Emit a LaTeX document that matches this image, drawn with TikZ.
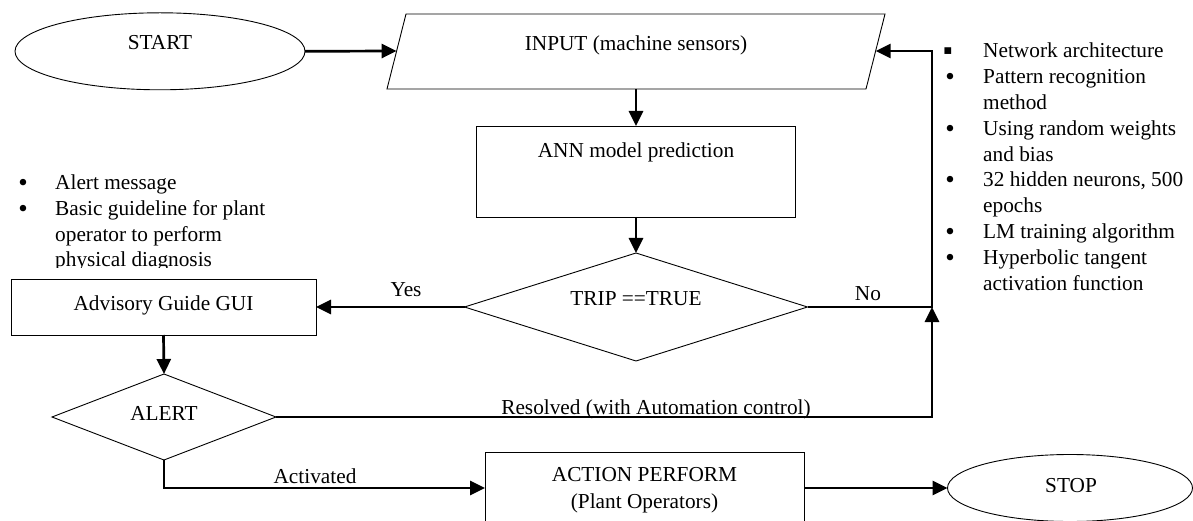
\documentclass[tikz,border=0pt]{standalone}
\usepackage{fontspec}
\setmainfont{Liberation Serif}
\usetikzlibrary{shapes.geometric,arrows.meta}
\begin{document}
\begin{tikzpicture}[x=1pt,y=-1pt,
  font=\fontsize{21.3}{25.8}\selectfont,
  shapeline/.style={draw=black, line width=0.9pt, inner sep=0pt, outer sep=0pt},
  terminal/.style={shapeline, ellipse},
  process/.style={shapeline, rectangle},
  decision/.style={shapeline, diamond},
  conn/.style={line width=2.7pt, -{Triangle[length=15pt,width=14pt]}},
  txt/.style={anchor=base, inner sep=0pt},
  itemtxt/.style={anchor=base west, inner sep=0pt},
  bul/.style={anchor=base, inner sep=0pt, yshift=-2pt, font=\fontsize{27}{27}\selectfont}]

\useasboundingbox (0,0) rectangle (1193,521);
\clip (0,0) rectangle (1193,521);

% ---- shapes ----
\node[terminal, minimum width=290, minimum height=77] (start) at (160,51.3) {};
\node[txt] (startlbl) at (160,50) {START};

% input parallelogram
\coordinate (inBL) at (387,89);
\coordinate (inBR) at (866,89);
\coordinate (inTR) at (885,14);
\coordinate (inTL) at (406,14);
\draw[line width=0.9pt] (inBL) -- (inBR) -- (inTR) -- (inTL) -- cycle;
\coordinate (inW) at (396.6,51);
\coordinate (inE) at (875.6,51);
\coordinate (inS) at (636,89);
\node[txt] (input) at (636,51) {INPUT (machine sensors)};

\node[process, minimum width=319, minimum height=91] (ann) at (636,171.5) {};
\node[txt] (annlbl) at (636,157.5) {ANN model prediction};

\node[decision, minimum width=343, minimum height=108] (trip) at (636,307) {};
\node[txt] (triplbl) at (636,305) {TRIP ==TRUE};

\node[process, minimum width=305, minimum height=56] (adv) at (163.5,307) {};
\node[txt] (advlbl) at (163.5,310) {Advisory Guide GUI};

\node[decision, minimum width=224, minimum height=86] (alert) at (164,417) {};
\node[txt] (alertlbl) at (164,420) {ALERT};

\node[process, minimum width=319, minimum height=72] (action) at (644.5,488) {};
\node[txt] (actionlbl) at (644.5,481) {ACTION PERFORM};
\node[txt] (actionlbl2) at (644.5,508) {(Plant Operators)};

\node[terminal, minimum width=245, minimum height=67] (stop) at (1070,488) {};
\node[txt] (stoplbl) at (1071,492) {STOP};

% ---- connectors ----
\coordinate (rjoin) at (932,307);
\coordinate (rtop) at (932,51);

\draw[conn] (start.east) -- (inW);
\draw[conn] (inS) -- (ann.north);
\draw[conn] (ann.south) -- (trip.north);
\draw[conn] (trip.west) -- (adv.east);
\draw[conn] (trip.east) -- (rjoin) -- (rtop) -- (inE);
\draw[conn] (adv.south) -- (alert.north);
\draw[conn] (alert.east) -| (rjoin);
\draw[conn] (alert.south) |- (action.west);
\draw[conn] (action.east) -- (stop.west);

% ---- connector labels ----
\node[txt] (yes) at (406,296) {Yes};
\node[txt] (no) at (868,300) {No};
\node[txt] (resolved) at (656,414) {Resolved (with Automation control)};
\node[txt] (activated) at (315,483) {Activated};

% ---- notes on the network settings ----
\node[bul] (b1) at (948,58) {▪};
\node[itemtxt] (n1) at (983,58) {Network architecture};
\node[bul] (b2) at (950,83.8) {•};
\node[itemtxt] (n2a) at (983,83.8) {Pattern recognition};
\node[itemtxt] (n2b) at (983,109.6) {method};
\node[bul] (b3) at (950,135.4) {•};
\node[itemtxt] (n3a) at (983,135.4) {Using random weights};
\node[itemtxt] (n3b) at (983,161.2) {and bias};
\node[bul] (b4) at (950,187) {•};
\node[itemtxt] (n4a) at (983,187) {32 hidden neurons, 500};
\node[itemtxt] (n4b) at (983,212.8) {epochs};
\node[bul] (b5) at (950,238.6) {•};
\node[itemtxt] (n5) at (983,238.6) {LM training algorithm};
\node[bul] (b6) at (950,264.4) {•};
\node[itemtxt] (n6a) at (983,264.4) {Hyperbolic tangent};
\node[itemtxt] (n6b) at (983,290.2) {activation function};

% ---- notes on the advisory output ----
\begin{scope}
\clip (0,160) rectangle (340,267.5);
\node[bul] (a1) at (23,189.5) {•};
\node[itemtxt] (m1) at (55,189.5) {Alert message};
\node[bul] (a2) at (23,215.3) {•};
\node[itemtxt] (m2a) at (55,215.3) {Basic guideline for plant};
\node[itemtxt] (m2b) at (55,241.1) {operator to perform};
\node[itemtxt] (m2c) at (55,266.9) {physical diagnosis};
\end{scope}

\end{tikzpicture}
\end{document}
